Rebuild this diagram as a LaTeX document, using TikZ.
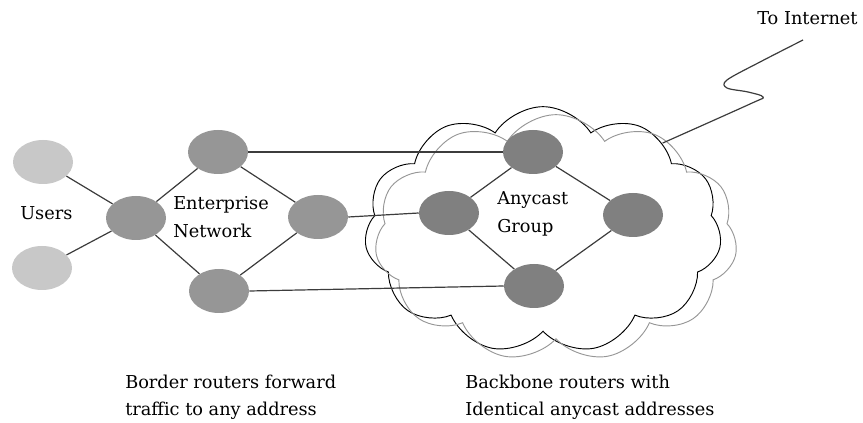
\documentclass[tikz,border=0pt]{standalone}
\usepackage{fontspec}
\setmainfont{DejaVu Serif}
\usetikzlibrary{shapes.symbols,shapes.geometric}
\definecolor{usercol}{RGB}{200,200,200}
\definecolor{entcol}{RGB}{150,150,150}
\definecolor{anycol}{RGB}{128,128,128}
\definecolor{linecol}{RGB}{60,60,60}
\definecolor{cloudgray}{RGB}{150,150,150}
\begin{document}
\begin{tikzpicture}[x=0.75pt,y=-0.75pt,
  router/.style={ellipse,minimum width=45pt,minimum height=33pt,inner sep=0pt},
  userrt/.style={router,fill=usercol},
  entrt/.style={router,fill=entcol},
  anyrt/.style={router,fill=anycol},
  link/.style={draw=linecol,line width=0.9pt},
  lbl/.style={font=\fontsize{13.3}{20.5}\selectfont,anchor=west,inner sep=0pt,align=left},
  cloudb/.style={cloud,cloud puffs=11,cloud puff arc=115,draw=black,line width=0.7pt,aspect=1.45,inner sep=0pt},
  cloudg/.style={cloudb,draw=cloudgray}
]
\useasboundingbox (0,0) rectangle (863,423);
% clouds
\node[cloudb,minimum width=268pt,minimum height=185pt] (cb) at (543,230) {};
\node[cloudg,minimum width=272pt,minimum height=185pt] (cg) at (556,238) {};
% users
\node[userrt] (u1) at (43,162) {};
\node[userrt] (u2) at (42,268) {};
% enterprise
\node[entrt] (h) at (136,218) {};
\node[entrt] (et) at (218,152) {};
\node[entrt] (er) at (318,217) {};
\node[entrt] (eb) at (219,291) {};
% anycast
\node[anyrt] (at) at (533,152) {};
\node[anyrt] (al) at (449,213) {};
\node[anyrt] (ar) at (633,215) {};
\node[anyrt] (ab) at (534,286) {};
% links
\draw[link] (u1) -- (h);
\draw[link] (u2) -- (h);
\draw[link] (h) -- (et);
\draw[link] (h) -- (eb);
\draw[link] (et) -- (er);
\draw[link] (eb) -- (er);
\draw[link] (et.east) -- (at.west);
\draw[link] (er.east) -- (al.west);
\draw[link] (eb.east) -- (ab.west);
\draw[link] (at) -- (al);
\draw[link] (at) -- (ar);
\draw[link] (ab) -- (al);
\draw[link] (ab) -- (ar);
% internet squiggle
\coordinate (net) at (803,40);
\draw[link] plot[smooth,tension=0.55] coordinates {(cb.36) (750,104) (763,97) (748,92) (727,88) (727,80) (760,62) (net)};
% labels
\node[lbl] (tu) at (20,213) {Users};
\node[lbl] (te) at (173,217) {Enterprise\\Network};
\node[lbl] (ta) at (497,214) {Anycast\\Group};
\node[lbl] (ti) at (757,18) {To Internet};
\node[lbl] (tb) at (125,397) {Border routers forward\\traffic to any address};
\node[lbl] (tk) at (465,397) {Backbone routers with\\Identical anycast addresses};
\end{tikzpicture}
\end{document}
